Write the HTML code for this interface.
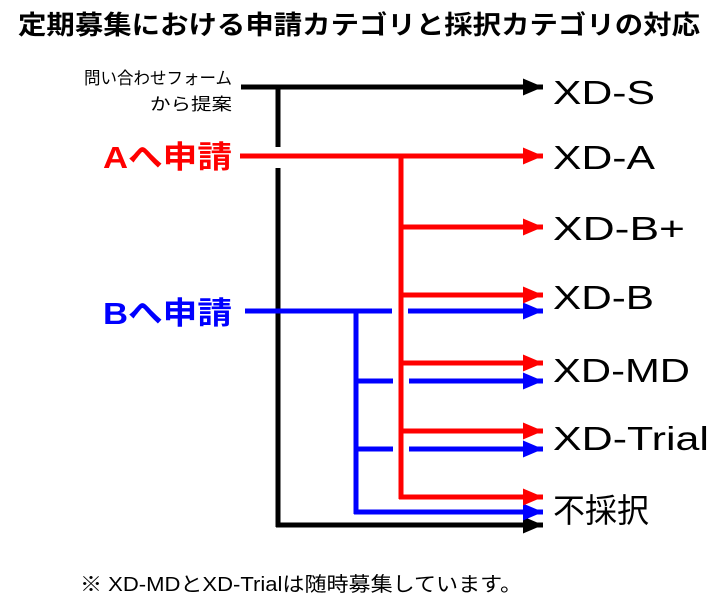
<!DOCTYPE html>
<html><head><meta charset="utf-8"><style>
html,body{margin:0;padding:0;background:#fff;width:725px;height:612px;overflow:hidden}
text{font-family:"Liberation Sans","Noto Sans CJK JP",sans-serif}
</style></head><body>
<svg width="725" height="612" viewBox="0 0 725 612" xmlns="http://www.w3.org/2000/svg">
<defs>
<marker id="ak" markerWidth="4" markerHeight="4" refX="4" refY="2" orient="auto" markerUnits="strokeWidth"><path d="M0,0.3 L4,2 L0,3.7z" fill="#000"/></marker>
<marker id="ar" markerWidth="4" markerHeight="4" refX="4" refY="2" orient="auto" markerUnits="strokeWidth"><path d="M0,0.3 L4,2 L0,3.7z" fill="#f00"/></marker>
<marker id="ab" markerWidth="4" markerHeight="4" refX="4" refY="2" orient="auto" markerUnits="strokeWidth"><path d="M0,0.3 L4,2 L0,3.7z" fill="#00f"/></marker>
</defs>
<text x="18" y="34" font-size="26" font-weight="bold" textLength="682" lengthAdjust="spacingAndGlyphs">定期募集における申請カテゴリと採択カテゴリの対応</text>

<g stroke-width="5" fill="none">
<line x1="241" y1="87" x2="543" y2="87" stroke="#000" marker-end="url(#ak)"/>
<line x1="278" y1="87" x2="278" y2="147" stroke="#000"/>
<line x1="278" y1="168" x2="278" y2="527" stroke="#000"/>
<line x1="276" y1="525" x2="543" y2="525" stroke="#000" marker-end="url(#ak)"/>
<line x1="245" y1="311" x2="392" y2="311" stroke="#00f"/>
<line x1="408" y1="311" x2="543" y2="311" stroke="#00f" marker-end="url(#ab)"/>
<line x1="356" y1="311" x2="356" y2="514" stroke="#00f"/>
<line x1="356" y1="381" x2="393" y2="381" stroke="#00f"/>
<line x1="409" y1="381" x2="543" y2="381" stroke="#00f" marker-end="url(#ab)"/>
<line x1="356" y1="449" x2="393" y2="449" stroke="#00f"/>
<line x1="409" y1="449" x2="543" y2="449" stroke="#00f" marker-end="url(#ab)"/>
<line x1="354" y1="512" x2="543" y2="512" stroke="#00f" marker-end="url(#ab)"/>
<line x1="240" y1="156" x2="543" y2="156" stroke="#f00" marker-end="url(#ar)"/>
<line x1="401" y1="156" x2="401" y2="499" stroke="#f00"/>
<line x1="401" y1="227" x2="543" y2="227" stroke="#f00" marker-end="url(#ar)"/>
<line x1="401" y1="295" x2="543" y2="295" stroke="#f00" marker-end="url(#ar)"/>
<line x1="401" y1="363" x2="543" y2="363" stroke="#f00" marker-end="url(#ar)"/>
<line x1="401" y1="431" x2="543" y2="431" stroke="#f00" marker-end="url(#ar)"/>
<line x1="399" y1="497" x2="543" y2="497" stroke="#f00" marker-end="url(#ar)"/>
</g>

<text x="84" y="84" font-size="17" textLength="148" lengthAdjust="spacingAndGlyphs">問い合わせフォーム</text>
<text x="150" y="110" font-size="17" textLength="82" lengthAdjust="spacingAndGlyphs">から提案</text>
<text x="103" y="168" font-size="31" font-weight="bold" fill="#f00" textLength="129" lengthAdjust="spacingAndGlyphs">Aへ申請</text>
<text x="103" y="324" font-size="31" font-weight="bold" fill="#00f" textLength="129" lengthAdjust="spacingAndGlyphs">Bへ申請</text>

<g font-size="33">
<text x="553" y="104" textLength="102" lengthAdjust="spacingAndGlyphs">XD-S</text>
<text x="553" y="169" textLength="102" lengthAdjust="spacingAndGlyphs">XD-A</text>
<text x="553" y="240" textLength="132" lengthAdjust="spacingAndGlyphs">XD-B+</text>
<text x="553" y="309" textLength="101" lengthAdjust="spacingAndGlyphs">XD-B</text>
<text x="553" y="382" textLength="137" lengthAdjust="spacingAndGlyphs">XD-MD</text>
<text x="553" y="450" textLength="156" lengthAdjust="spacingAndGlyphs">XD-Trial</text>
<text x="553" y="522" textLength="96" lengthAdjust="spacingAndGlyphs">不採択</text>
</g>
<text x="80" y="591" font-size="20" textLength="442" lengthAdjust="spacingAndGlyphs">※ XD-MDとXD-Trialは随時募集しています。</text>
</svg>
</body></html>
